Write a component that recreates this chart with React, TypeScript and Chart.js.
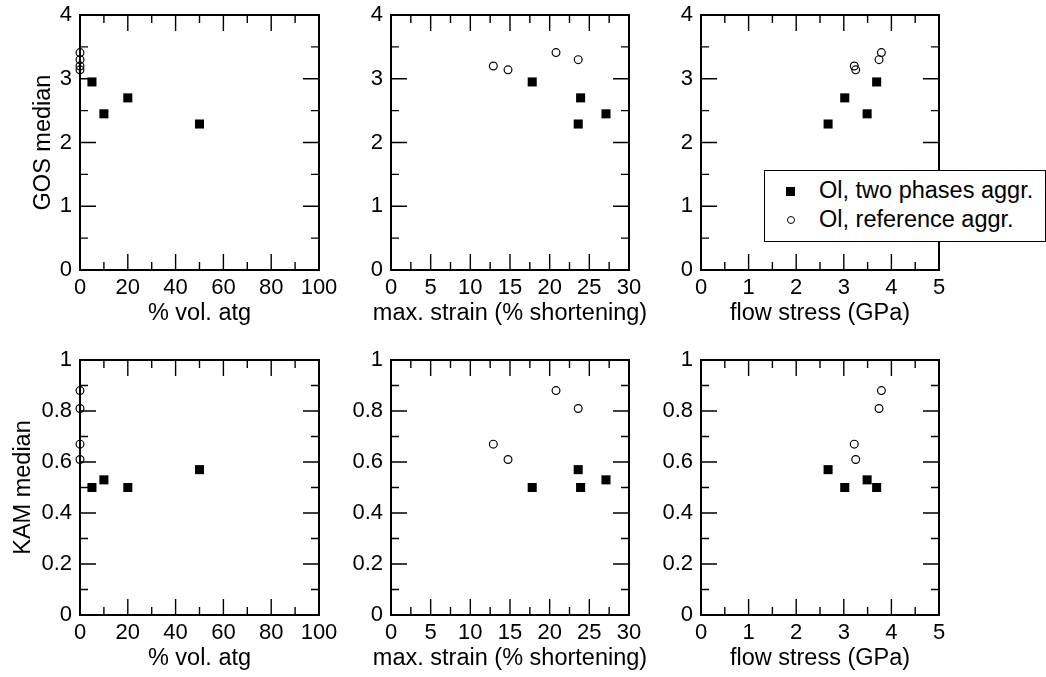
import React, { useEffect, useRef } from "react";
import { Chart, registerables } from "chart.js";

Chart.register(...registerables);

const FONT = '"Liberation Sans", Arial, Helvetica, sans-serif';

// ---- data ----
const seriesLabels = ["Ol, two phases aggr.", "Ol, reference aggr."];

const atgTwoPhase = [5, 10, 20, 50];
const strainTwoPhase = [17.8, 27.1, 23.9, 23.6];
const stressTwoPhase = [3.69, 3.49, 3.02, 2.67];
const gosTwoPhase = [2.95, 2.45, 2.7, 2.29];
const kamTwoPhase = [0.5, 0.53, 0.5, 0.57];

const atgReference = [0, 0, 0, 0];
const strainReference = [12.9, 14.75, 20.8, 23.6];
const stressReference = [3.22, 3.25, 3.79, 3.74];
const gosReference = [3.2, 3.14, 3.41, 3.3];
const kamReference = [0.67, 0.61, 0.88, 0.81];

const atgTicks = [0, 20, 40, 60, 80, 100];
const strainTicks = [0, 5, 10, 15, 20, 25, 30];
const stressTicks = [0, 1, 2, 3, 4, 5];
const gosTicks = [0, 1, 2, 3, 4];
const kamTicks = [0, 0.2, 0.4, 0.6, 0.8, 1];

const xTitles = ["% vol. atg", "max. strain (% shortening)", "flow stress (GPa)"];
const yTitles = ["GOS median", "KAM median"];

type PanelProps = {
  xTwo: number[];
  yTwo: number[];
  xRef: number[];
  yRef: number[];
  xTicks: number[];
  yTicks: number[];
  xTitle: string;
  yTitle?: string;
  yTitlePad: number;
  left: number;
  top: number;
  width: number;
  height: number;
  yAxisWidth: number;
  padTop: number;
  padRight: number;
  xAxisHeight: number;
};

const framePlugin = {
  id: "frameTicks",
  beforeDatasetsDraw(chart: any) {
    const { ctx, chartArea: a, scales } = chart;
    const xs = scales.x;
    const ys = scales.y;
    const xv: number[] = xs.ticks.map((t: any) => t.value);
    const yv: number[] = ys.ticks.map((t: any) => t.value);
    const mids = (v: number[]) => v.slice(0, -1).map((s, i) => (s + v[i + 1]) / 2);
    const MAJ = 16;
    const MIN = 8;
    ctx.save();
    ctx.strokeStyle = "#000";
    ctx.lineWidth = 1.4;
    ctx.beginPath();
    const xTick = (v: number, len: number) => {
      const p = xs.getPixelForValue(v);
      ctx.moveTo(p, a.bottom);
      ctx.lineTo(p, a.bottom - len);
      ctx.moveTo(p, a.top);
      ctx.lineTo(p, a.top + len);
    };
    const yTick = (v: number, len: number) => {
      const p = ys.getPixelForValue(v);
      ctx.moveTo(a.left, p);
      ctx.lineTo(a.left + len, p);
      ctx.moveTo(a.right, p);
      ctx.lineTo(a.right - len, p);
    };
    xv.slice(1, -1).forEach((v) => xTick(v, MAJ));
    mids(xv).forEach((v) => xTick(v, MIN));
    yv.slice(1, -1).forEach((v) => yTick(v, MAJ));
    mids(yv).forEach((v) => yTick(v, MIN));
    ctx.stroke();
    ctx.lineWidth = 2;
    ctx.strokeRect(a.left, a.top, a.right - a.left, a.bottom - a.top);
    ctx.restore();
  },
  afterDraw(chart: any, _args: any, opts: any) {
    const { ctx, chartArea: a } = chart;
    if (!opts || !opts.xTitle) return;
    ctx.save();
    ctx.fillStyle = "#000";
    ctx.font = `23.5px ${FONT}`;
    ctx.textAlign = "center";
    ctx.textBaseline = "middle";
    ctx.fillText(opts.xTitle, (a.left + a.right) / 2, a.bottom + 44);
    ctx.restore();
  },
};

function Panel(p: PanelProps) {
  const ref = useRef<HTMLCanvasElement>(null);
  useEffect(() => {
    if (!ref.current) return;
    const pts = (xs: number[], ys: number[]) => xs.map((x, i) => ({ x, y: ys[i] }));
    const zeroPad = (s: any) => {
      s.paddingLeft = 0;
      s.paddingRight = 0;
      s.paddingTop = 0;
      s.paddingBottom = 0;
    };
    const chart = new Chart(ref.current, {
      type: "scatter",
      data: {
        datasets: [
          {
            label: seriesLabels[0],
            data: pts(p.xTwo, p.yTwo),
            pointStyle: "rect",
            pointRadius: 6.4,
            backgroundColor: "#000",
            borderColor: "#000",
            borderWidth: 0,
            clip: false,
          } as any,
          {
            label: seriesLabels[1],
            data: pts(p.xRef, p.yRef),
            pointStyle: "circle",
            pointRadius: 3.9,
            backgroundColor: "rgba(0,0,0,0)",
            borderColor: "#000",
            borderWidth: 1.2,
            clip: false,
          } as any,
        ],
      },
      options: {
        responsive: false,
        animation: false,
        events: [],
        layout: { padding: { top: p.padTop, right: p.padRight, left: 0, bottom: 0 } },
        plugins: {
          legend: { display: false },
          tooltip: { enabled: false },
          frameTicks: { xTitle: p.xTitle },
        },
        scales: {
          x: {
            type: "linear",
            position: "bottom",
            min: p.xTicks[0],
            max: p.xTicks[p.xTicks.length - 1],
            afterBuildTicks: (s: any) => {
              s.ticks = p.xTicks.map((v) => ({ value: v }));
            },
            afterFit: (s: any) => {
              s.height = p.xAxisHeight;
              zeroPad(s);
            },
            grid: { display: false, drawTicks: false },
            border: { display: false },
            ticks: {
              padding: 5,
              color: "#000",
              autoSkip: false,
              maxRotation: 0,
              font: { size: 22, family: FONT },
              callback: (v: any) => String(v),
            },
            title: { display: false },
          },
          y: {
            type: "linear",
            position: "left",
            min: p.yTicks[0],
            max: p.yTicks[p.yTicks.length - 1],
            afterBuildTicks: (s: any) => {
              s.ticks = p.yTicks.map((v) => ({ value: v }));
            },
            afterFit: (s: any) => {
              s.width = p.yAxisWidth;
              zeroPad(s);
            },
            grid: { display: false, drawTicks: false },
            border: { display: false },
            ticks: {
              padding: 8,
              color: "#000",
              autoSkip: false,
              font: { size: 22, family: FONT },
              callback: (v: any) => String(v),
            },
            title: {
              display: !!p.yTitle,
              text: p.yTitle || "",
              color: "#000",
              font: { size: 23.5, family: FONT },
              padding: { top: p.yTitlePad, bottom: 0 },
            },
          },
        },
      } as any,
      plugins: [framePlugin],
    });
    return () => chart.destroy();
  }, []);
  return (
    <canvas
      ref={ref}
      width={p.width}
      height={p.height}
      style={{ position: "absolute", left: p.left, top: p.top, width: p.width, height: p.height, display: "block" }}
    />
  );
}

const cols = [
  { left: 0, width: 350, yAxisWidth: 80, padRight: 31, xTicks: atgTicks, xTwo: atgTwoPhase, xRef: atgReference, xTitle: xTitles[0] },
  { left: 330, width: 330, yAxisWidth: 61, padRight: 31, xTicks: strainTicks, xTwo: strainTwoPhase, xRef: strainReference, xTitle: xTitles[1] },
  { left: 650, width: 396, yAxisWidth: 51, padRight: 107, xTicks: stressTicks, xTwo: stressTwoPhase, xRef: stressReference, xTitle: xTitles[2] },
];

const rows = [
  { top: 0, height: 330, padTop: 15, xAxisHeight: 60, yTicks: gosTicks, yTwo: gosTwoPhase, yRef: gosReference, yTitle: yTitles[0], yTitlePad: 29 },
  { top: 340, height: 337, padTop: 20, xAxisHeight: 62, yTicks: kamTicks, yTwo: kamTwoPhase, yRef: kamReference, yTitle: yTitles[1], yTitlePad: 9.5 },
];

export default function App() {
  return (
    <div
      style={{
        position: "absolute",
        left: 0,
        top: 0,
        width: 1046,
        height: 677,
        background: "#fff",
        overflow: "hidden",
        fontFamily: FONT,
      }}
    >
      {rows.map((r, ri) =>
        cols.map((c, ci) => (
          <Panel
            key={`${ri}-${ci}`}
            left={c.left}
            top={r.top}
            width={c.width}
            height={r.height}
            yAxisWidth={c.yAxisWidth}
            padTop={r.padTop}
            padRight={c.padRight}
            xAxisHeight={r.xAxisHeight}
            xTicks={c.xTicks}
            yTicks={r.yTicks}
            xTwo={c.xTwo}
            yTwo={r.yTwo}
            xRef={c.xRef}
            yRef={r.yRef}
            xTitle={c.xTitle}
            yTitle={ci === 0 ? r.yTitle : undefined}
            yTitlePad={r.yTitlePad}
          />
        ))
      )}
      <div
        style={{
          position: "absolute",
          left: 764,
          top: 170,
          width: 282,
          height: 72,
          boxSizing: "border-box",
          border: "1px solid #000",
          background: "#fff",
          color: "#000",
          fontSize: 23.5,
          lineHeight: "28px",
        }}
      >
        <div style={{ position: "absolute", left: 21, top: 15.5, width: 9, height: 9, background: "#000" }} />
        <div
          style={{
            position: "absolute",
            left: 22,
            top: 45,
            width: 8,
            height: 8,
            boxSizing: "border-box",
            border: "1.1px solid #000",
            borderRadius: "50%",
          }}
        />
        <div style={{ position: "absolute", left: 54, top: 5, whiteSpace: "nowrap" }}>{seriesLabels[0]}</div>
        <div style={{ position: "absolute", left: 54, top: 34, whiteSpace: "nowrap" }}>{seriesLabels[1]}</div>
      </div>
    </div>
  );
}
